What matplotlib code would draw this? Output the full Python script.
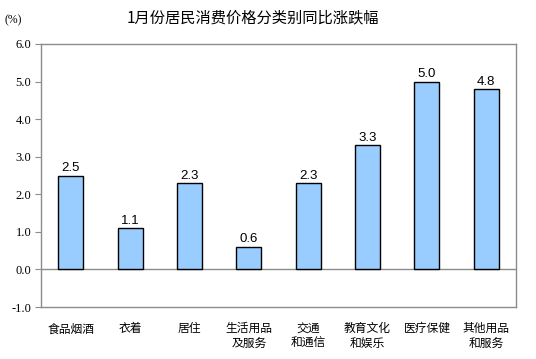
import numpy as np
import matplotlib.pyplot as plt

# 1月份居民消费价格分类别同比涨跌幅
categories = ["食品烟酒", "衣着", "居住", "生活用品\n及服务", "交通\n和通信",
              "教育文化\n和娱乐", "医疗保健", "其他用品\n和服务"]
values = [2.5, 1.1, 2.3, 0.6, 2.3, 3.3, 5.0, 4.8]
y_ticks = [-1.0, 0.0, 1.0, 2.0, 3.0, 4.0, 5.0, 6.0]

cjk = ["Noto Sans CJK SC", "DejaVu Sans"]

fig = plt.figure(figsize=(5.36, 3.59), dpi=100)
ax = fig.add_axes([41 / 536, 1 - 307 / 359, 475 / 536, 263 / 359])

x = np.arange(len(categories))
ax.bar(x, values, width=0.42, color="#99CCFF", edgecolor="black", linewidth=1.0, zorder=3)

for xi, v in zip(x, values):
    ax.text(xi, v + 0.04, f"{v:.1f}", ha="center", va="bottom",
            fontsize=9.5, family="Liberation Sans")

ax.axhline(0, color="#8c8c8c", linewidth=1.0, zorder=2)

ax.set_xlim(-0.5, len(categories) - 0.5)
ax.set_ylim(-1.0, 6.0)
ax.set_yticks(y_ticks)
ax.set_yticklabels([f"{t:.1f}" for t in y_ticks], family="Liberation Serif", fontsize=9)
ax.set_xticks(x)
ax.set_xticklabels(categories, family=cjk, fontsize=8.5, linespacing=1.2)
ax.tick_params(axis="x", length=0, pad=11)
ax.tick_params(axis="y", length=4, width=0.8, color="#8c8c8c", pad=3, direction="out")
for s in ax.spines.values():
    s.set_color("#8c8c8c")
    s.set_linewidth(1.0)

fig.text(253 / 536, 1 - 18 / 359, "1月份居民消费价格分类别同比涨跌幅", ha="center", va="center",
         fontsize=11, family=cjk)
fig.text(13 / 536, 1 - 20 / 359, "(%)", ha="center", va="center", fontsize=8.5,
         family="Liberation Serif")

fig.savefig("out.png", dpi=100)
